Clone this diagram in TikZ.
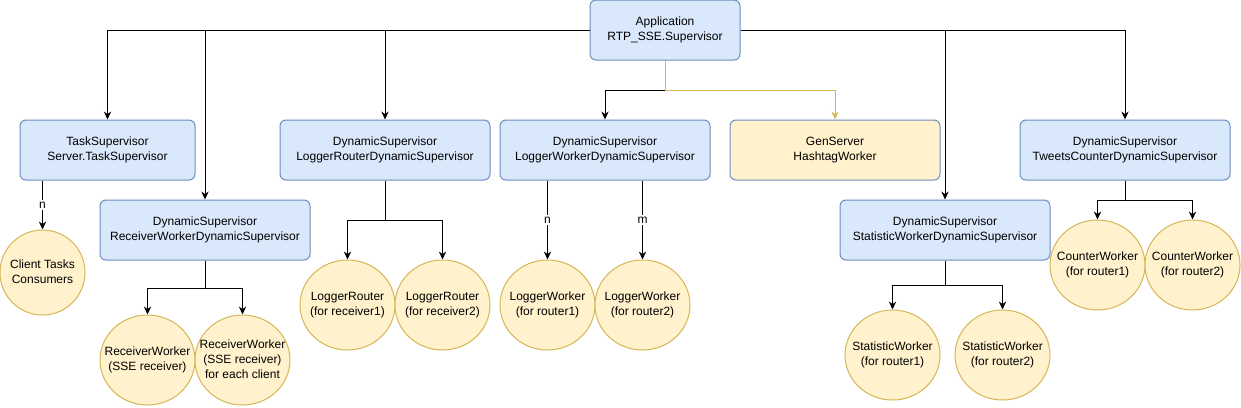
\documentclass[tikz,border=0pt]{standalone}
\usepackage{fontspec}
\setmainfont{Liberation Sans}
\usepackage{xcolor}
\usetikzlibrary{shapes.geometric,arrows.meta}

\definecolor{supfill}{HTML}{DAE8FC}
\definecolor{supline}{HTML}{6C8EBF}
\definecolor{wrkfill}{HTML}{FFF2CC}
\definecolor{wrkline}{HTML}{D6B656}

% text of a worker, kept from widening its ellipse
\newcommand{\wtext}[1]{\makebox[0pt]{\begin{tabular}{@{}c@{}}#1\end{tabular}}}

\tikzset{
  supbox/.style={draw=supline, fill=supfill, rounded corners=4.5pt, line width=0.75pt,
    minimum width=157.5pt, minimum height=45pt, align=center, inner sep=0pt,
    font=\fontsize{9}{11.25}\selectfont},
  genbox/.style={supbox, fill=wrkfill},
  wrk/.style={ellipse, draw=wrkline, fill=wrkfill, line width=0.75pt,
    minimum width=71.25pt, minimum height=67.5pt, inner sep=0pt,
    font=\fontsize{9}{11.25}\selectfont},
  arr/.style={-{Stealth[length=6pt,width=5.5pt]}, line width=0.75pt},
  arrgold/.style={arr, draw=wrkline},
  lbl/.style={fill=white, inner sep=1pt, font=\fontsize{9}{11}\selectfont},
}

\begin{document}
\begin{tikzpicture}[x=0.75pt, y=-0.75pt]
      \useasboundingbox (0,0) rectangle (1241,407);

      % supervisors
      \node[supbox, minimum width=112.5pt] (app) at (665,30) {Application\\RTP\_SSE.Supervisor};
      \node[supbox, minimum width=131.25pt] (task) at (107.5,150) {TaskSupervisor\\Server.TaskSupervisor};
      \node[supbox] (rwds) at (205,230) {DynamicSupervisor\\ReceiverWorkerDynamicSupervisor};
      \node[supbox] (lrds) at (385,150) {DynamicSupervisor\\LoggerRouterDynamicSupervisor};
      \node[supbox] (lwds) at (605,150) {DynamicSupervisor\\LoggerWorkerDynamicSupervisor};
      \node[genbox] (gen) at (835,150) {GenServer\\HashtagWorker};
      \node[supbox] (swds) at (945,230) {DynamicSupervisor\\StatisticWorkerDynamicSupervisor};
      \node[supbox] (tcds) at (1125,150) {DynamicSupervisor\\TweetsCounterDynamicSupervisor};

      % workers
      \node[wrk, minimum width=63.75pt, minimum height=63.75pt] (cli) at (42.5,272.5) {\wtext{Client Tasks\\Consumers}};
      \node[wrk] (rw1) at (147.5,360) {\wtext{ReceiverWorker\\(SSE receiver)}};
      \node[wrk] (rw2) at (242.5,360) {\wtext{ReceiverWorker\\(SSE receiver)\\for each client}};
      \node[wrk] (lr1) at (347.5,305) {\wtext{LoggerRouter\\(for receiver1)}};
      \node[wrk] (lr2) at (442.5,305) {\wtext{LoggerRouter\\(for receiver2)}};
      \node[wrk] (lw1) at (547.5,305) {\wtext{LoggerWorker\\(for router1)}};
      \node[wrk] (lw2) at (642.5,305) {\wtext{LoggerWorker\\(for router2)}};
      \node[wrk] (sw1) at (892.5,355) {\wtext{StatisticWorker\\(for router1)}};
      \node[wrk] (sw2) at (1002.5,355) {\wtext{StatisticWorker\\(for router2)}};
      \node[wrk] (cw1) at (1097.5,265) {\wtext{CounterWorker\\(for router1)}};
      \node[wrk] (cw2) at (1192.5,265) {\wtext{CounterWorker\\(for router2)}};

      % forks
      \coordinate (appfork) at (665,90);
      \coordinate (rwfork) at (205,288);
      \coordinate (lrfork) at (385,220);
      \coordinate (swfork) at (945,285);
      \coordinate (cwfork) at (1125,200);

      % application children
      \draw[arr] (app.west) -| (task.north);
      \draw[arr] (app.west) -| (rwds.north);
      \draw[arr] (app.west) -| (lrds.north);
      \draw[arr] (app.east) -| (swds.north);
      \draw[arr] (app.east) -| (tcds.north);
      \draw[arr] (app.south) -- (appfork) -| (lwds.north);
      \draw[arrgold] (app.south) -- (appfork) -| (gen.north);

      % supervisor children
      \draw[arr] (cli.north |- task.south) -- node[lbl] {n} (cli.north);
      \draw[arr] (rwds.south) -- (rwfork) -| (rw1.north);
      \draw[arr] (rwds.south) -- (rwfork) -| (rw2.north);
      \draw[arr] (lrds.south) -- (lrfork) -| (lr1.north);
      \draw[arr] (lrds.south) -- (lrfork) -| (lr2.north);
      \draw[arr] (lw1.north |- lwds.south) -- node[lbl] {n} (lw1.north);
      \draw[arr] (lw2.north |- lwds.south) -- node[lbl] {m} (lw2.north);
      \draw[arr] (swds.south) -- (swfork) -| (sw1.north);
      \draw[arr] (swds.south) -- (swfork) -| (sw2.north);
      \draw[arr] (tcds.south) -- (cwfork) -| (cw1.north);
      \draw[arr] (tcds.south) -- (cwfork) -| (cw2.north);
    \end{tikzpicture}
\end{document}
